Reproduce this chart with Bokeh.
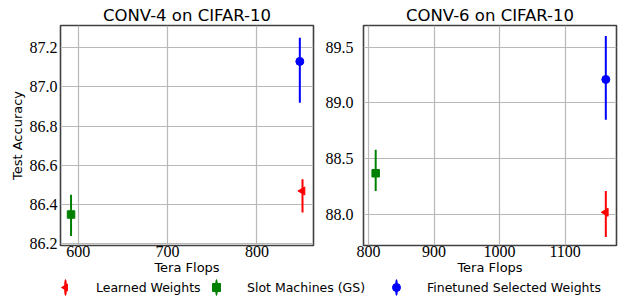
import math
from bokeh.plotting import figure
from bokeh.models import Range1d, FixedTicker, PrintfTickFormatter, Legend, LegendItem
from bokeh.layouts import column, row
from bokeh.embed import file_html
from bokeh.resources import INLINE

# ---------------- data ----------------
series_names = ["Learned Weights", "Slot Machines (GS)", "Finetuned Selected Weights"]
series_colors = ["#ff0000", "#008000", "#0000ff"]
series_markers = ["triangle", "square", "circle"]

conv4_flops = [851, 592, 848]
conv4_acc = [86.47, 86.35, 87.13]
conv4_lo = [86.36, 86.24, 86.92]
conv4_hi = [86.53, 86.45, 87.25]

conv6_flops = [1162, 811, 1162]
conv6_acc = [88.02, 88.37, 89.21]
conv6_lo = [87.80, 88.21, 88.85]
conv6_hi = [88.21, 88.58, 89.60]

conv4_xticks = [600, 700, 800]
conv4_yticks = [86.2, 86.4, 86.6, 86.8, 87.0, 87.2]
conv6_xticks = [800, 900, 1000, 1100]
conv6_yticks = [88.0, 88.5, 89.0, 89.5]

# ---------------- styling ----------------
H1 = 277
H3 = 20
SANS = "DejaVu Sans"
SERIF = "Liberation Serif"
marker_angles = [math.pi / 2, 0, 0]
marker_sizes = [8, 7.5, 8]
legend_key_centers = [65, 216, 396]   # legend layout (screen px)


def make_panel(title, xs, ys, lo, hi, xr, yr, xticks, yticks, ylabel,
               width, bl, br, ystandoff):
    p = figure(width=width, height=H1, x_range=Range1d(*xr), y_range=Range1d(*yr),
               output_backend="svg", toolbar_location=None,
               min_border_left=bl, min_border_right=br,
               min_border_top=25, min_border_bottom=0)
    p.title.text = title
    p.title.align = "center"
    p.title.text_font = SANS
    p.title.text_font_size = "16.5px"
    p.title.text_font_style = "normal"
    p.title.text_color = "#000000"
    p.title.standoff = 1
    p.outline_line_color = "#404040"
    p.outline_line_width = 1.6
    p.background_fill_color = "white"
    p.border_fill_color = "white"

    p.xaxis.ticker = FixedTicker(ticks=xticks)
    p.yaxis.ticker = FixedTicker(ticks=yticks)
    p.xaxis.formatter = PrintfTickFormatter(format="%d")
    p.yaxis.formatter = PrintfTickFormatter(format="%.1f")
    for ax in (p.xaxis[0], p.yaxis[0]):
        ax.axis_line_color = None
        ax.major_tick_line_color = None
        ax.minor_tick_line_color = None
        ax.major_tick_out = 0
        ax.major_tick_in = 0
        ax.major_label_text_font = SERIF
        ax.major_label_text_font_size = "16px"
        ax.major_label_text_color = "#000000"
        ax.axis_label_text_font = SANS
        ax.axis_label_text_font_size = "13px"
        ax.axis_label_text_font_style = "normal"
        ax.axis_label_text_color = "#000000"
        ax.axis_label_standoff = 0
    p.xaxis[0].major_label_standoff = 0
    p.yaxis[0].major_label_standoff = ystandoff
    p.yaxis[0].axis_label_standoff = 2
    p.xaxis[0].axis_label = "Tera Flops"
    if ylabel:
        p.yaxis[0].axis_label = ylabel
    p.grid.grid_line_color = "#b8b8b8"
    p.grid.grid_line_width = 1.2

    for i in range(len(xs)):
        p.segment(x0=[xs[i]], y0=[lo[i]], x1=[xs[i]], y1=[hi[i]],
                  line_color=series_colors[i], line_width=2)
        p.scatter(x=[xs[i]], y=[ys[i]], marker=series_markers[i],
                  size=marker_sizes[i], angle=marker_angles[i],
                  fill_color=series_colors[i], line_color=series_colors[i])
    return p


p1 = make_panel("CONV-4 on CIFAR-10", conv4_flops, conv4_acc, conv4_lo, conv4_hi,
                (580.2, 863.3), (86.192, 87.313), conv4_xticks, conv4_yticks,
                "Test Accuracy", 318, 60, 5, 3)
p2 = make_panel("CONV-6 on CIFAR-10", conv6_flops, conv6_acc, conv6_lo, conv6_hi,
                (792.4, 1178.3), (87.723, 89.693), conv6_xticks, conv6_yticks,
                None, 303, 45, 5, 10)

# ---------------- legend strip ----------------
# legend keys are drawn from renderers whose data lie outside this strip's ranges
p3 = figure(width=621, height=H3, x_range=Range1d(0, 1), y_range=Range1d(0, 1),
            x_axis_type=None, y_axis_type=None, output_backend="svg",
            toolbar_location=None, min_border=0, outline_line_color=None)
p3.grid.visible = False

for i, name in enumerate(series_names):
    bar = p3.ellipse(x=[conv4_flops[i]], y=[conv4_acc[i]], width=2.2, height=16,
                     width_units="screen", height_units="screen",
                     fill_color=series_colors[i], line_color=series_colors[i],
                     line_width=0.6)
    if i == 0 and hasattr(p3, "ngon"):
        mk = p3.ngon(x=[conv4_flops[i]], y=[conv4_acc[i]], radius=4, n=3,
                     angle=math.pi / 2, radius_units="screen",
                     fill_color=series_colors[i], line_color=series_colors[i])
    else:
        mk = p3.scatter(x=[conv4_flops[i]], y=[conv4_acc[i]], marker=series_markers[i],
                        fill_color=series_colors[i], line_color=series_colors[i])
    leg = Legend(items=[LegendItem(label=name, renderers=[bar, mk], index=0)],
                 location=(legend_key_centers[i] - 10, 0), orientation="horizontal",
                 padding=0, margin=0, border_line_color=None,
                 background_fill_color=None, label_text_font=SANS,
                 label_text_font_size="12.5px", label_text_color="#000000",
                 glyph_height=H3, glyph_width=20, label_height=H3,
                 label_standoff=21, spacing=0)
    p3.add_layout(leg, "center")

layout = column(row(p1, p2), p3)
open("out.html", "w").write(file_html(layout, INLINE))
